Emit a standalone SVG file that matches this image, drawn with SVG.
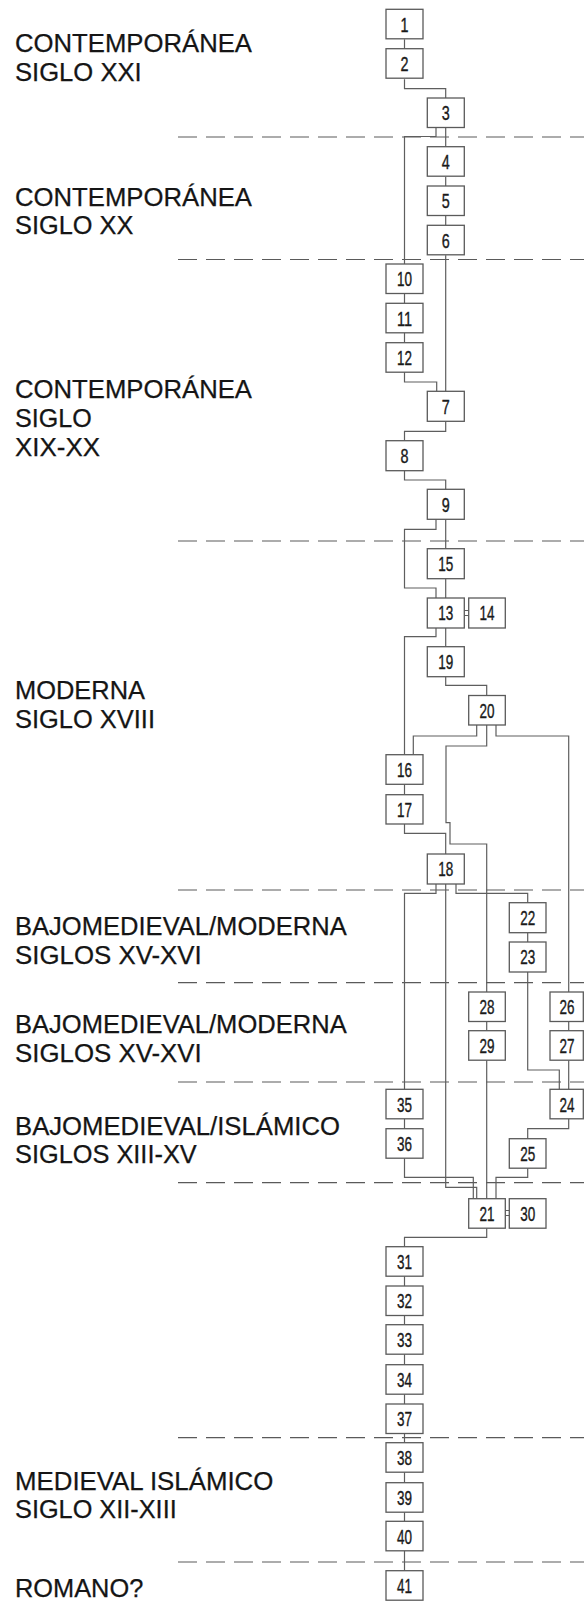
<svg xmlns="http://www.w3.org/2000/svg" width="584" height="1602" viewBox="0 0 584 1602">
<style>
.bg{fill:#fff}
.lbl{font-family:"Liberation Sans",Arial,sans-serif;font-size:25px;fill:#151515;stroke:#151515;stroke-width:0.25}
.box rect{fill:#fff;stroke:#5a5a5a;stroke-width:1.3}
.box text{font-family:"Liberation Sans",Arial,sans-serif;font-size:21px;fill:#1a1a1a;stroke:#1a1a1a;stroke-width:0.4;text-anchor:middle}
.dash{stroke:#5a5a5a;stroke-width:1.2;stroke-dasharray:19 9;fill:none}
.con path{fill:none;stroke:#5e5e5e;stroke-width:1.2}
</style>
<rect class="bg" x="0" y="0" width="584" height="1602"/>
<g id="periods">
<line class="dash" x1="178" y1="137" x2="584" y2="137"/>
<line class="dash" x1="178" y1="259.5" x2="584" y2="259.5"/>
<line class="dash" x1="178" y1="541" x2="584" y2="541"/>
<line class="dash" x1="178" y1="890" x2="584" y2="890"/>
<line class="dash" x1="178" y1="982.7" x2="584" y2="982.7"/>
<line class="dash" x1="178" y1="1082" x2="584" y2="1082"/>
<line class="dash" x1="178" y1="1182.7" x2="584" y2="1182.7"/>
<line class="dash" x1="178" y1="1437.7" x2="584" y2="1437.7"/>
<line class="dash" x1="178" y1="1562" x2="584" y2="1562"/>
</g>
<g id="labels">
<text class="lbl" x="15" y="51.7" textLength="237" lengthAdjust="spacingAndGlyphs">CONTEMPORÁNEA</text>
<text class="lbl" x="15" y="80.7" textLength="126.7" lengthAdjust="spacingAndGlyphs">SIGLO XXI</text>
<text class="lbl" x="15" y="205.5" textLength="237" lengthAdjust="spacingAndGlyphs">CONTEMPORÁNEA</text>
<text class="lbl" x="15" y="234" textLength="118.3" lengthAdjust="spacingAndGlyphs">SIGLO XX</text>
<text class="lbl" x="15" y="398.3" textLength="237" lengthAdjust="spacingAndGlyphs">CONTEMPORÁNEA</text>
<text class="lbl" x="15" y="426.7" textLength="76.7" lengthAdjust="spacingAndGlyphs">SIGLO</text>
<text class="lbl" x="15" y="456" textLength="85" lengthAdjust="spacingAndGlyphs">XIX-XX</text>
<text class="lbl" x="15" y="699.3" textLength="130" lengthAdjust="spacingAndGlyphs">MODERNA</text>
<text class="lbl" x="15" y="728.3" textLength="140" lengthAdjust="spacingAndGlyphs">SIGLO XVIII</text>
<text class="lbl" x="15" y="935" textLength="331.7" lengthAdjust="spacingAndGlyphs">BAJOMEDIEVAL/MODERNA</text>
<text class="lbl" x="15" y="964" textLength="186.7" lengthAdjust="spacingAndGlyphs">SIGLOS XV-XVI</text>
<text class="lbl" x="15" y="1032.7" textLength="331.7" lengthAdjust="spacingAndGlyphs">BAJOMEDIEVAL/MODERNA</text>
<text class="lbl" x="15" y="1061.7" textLength="186.7" lengthAdjust="spacingAndGlyphs">SIGLOS XV-XVI</text>
<text class="lbl" x="15" y="1135" textLength="325" lengthAdjust="spacingAndGlyphs">BAJOMEDIEVAL/ISLÁMICO</text>
<text class="lbl" x="15" y="1163.3" textLength="181.7" lengthAdjust="spacingAndGlyphs">SIGLOS XIII-XV</text>
<text class="lbl" x="15" y="1490" textLength="258.3" lengthAdjust="spacingAndGlyphs">MEDIEVAL ISLÁMICO</text>
<text class="lbl" x="15" y="1518.3" textLength="161.7" lengthAdjust="spacingAndGlyphs">SIGLO XII-XIII</text>
<text class="lbl" x="15" y="1597.3" textLength="128.3" lengthAdjust="spacingAndGlyphs">ROMANO?</text>
</g>
<g id="connectors" class="con">
<path d="M404.5 39.3V48.7"/>
<path d="M404.5 79.3V88.7H445.7V98"/>
<path d="M445.7 128V146.7"/>
<path d="M436 128V136.5H404.5V264"/>
<path d="M445.7 176.7V186"/>
<path d="M445.7 216V225.3"/>
<path d="M445.7 255.3V391.3"/>
<path d="M404.5 293.3V303.3"/>
<path d="M404.5 332.7V342.7"/>
<path d="M404.5 372V382H436.7V391.3"/>
<path d="M445.7 421.3V431.3H404.5V440.7"/>
<path d="M404.5 470.7V480H445.7V489.3"/>
<path d="M445.7 519.3V548.7"/>
<path d="M436 519.3V529.3H404.5V588H436V598"/>
<path d="M445.7 578.7V598"/>
<path d="M464 610.5H468.7M464 615.5H468.7"/>
<path d="M445.7 628V646.7"/>
<path d="M436 628V636.7H404.5V754.7"/>
<path d="M445.7 676.7V685.3H486.7V696"/>
<path d="M476.7 725V736H413.3V754.7"/>
<path d="M486.7 725V746H446V822.7H450V844H486.7V992"/>
<path d="M496 725V736H568.7V992"/>
<path d="M404.5 784.3V794.7"/>
<path d="M404.5 824V833.3H445.7V854"/>
<path d="M436 884V893.3H404.5V1089.3"/>
<path d="M445.7 884V1187.3H476.7V1198.7"/>
<path d="M456 884V893.3H527.7V902.7"/>
<path d="M527.7 932.7V942"/>
<path d="M527.7 972V1070H559.3V1089.3"/>
<path d="M568.7 1021.5V1030.7"/>
<path d="M568.7 1060.2V1089.3"/>
<path d="M486.7 1021.5V1030.7"/>
<path d="M486.7 1060.2V1198.7"/>
<path d="M404.5 1118.8V1128.7"/>
<path d="M404.5 1158.2V1177.3H473.3V1198.7"/>
<path d="M568.7 1118.8V1128.7H527.7V1138.7"/>
<path d="M527.7 1168.2V1177.3H496V1198.7"/>
<path d="M505.3 1210.5H509.3M505.3 1215.5H509.3"/>
<path d="M486.7 1228.2V1237.3H404.5V1246.7"/>
<path d="M404.5 1276.2V1286"/>
<path d="M404.5 1315.5V1324.7"/>
<path d="M404.5 1354.2V1364.7"/>
<path d="M404.5 1394.2V1404"/>
<path d="M404.5 1433.5V1442.7"/>
<path d="M404.5 1472.2V1482.7"/>
<path d="M404.5 1512.2V1521.3"/>
<path d="M404.5 1550.8V1570.7"/>
</g>
<g id="n1" class="box"><rect x="386" y="9.3" width="37" height="29.5"/><text x="404.5" y="31.6" textLength="8" lengthAdjust="spacingAndGlyphs">1</text></g>
<g id="n2" class="box"><rect x="386" y="48.7" width="37" height="29.5"/><text x="404.5" y="71" textLength="8" lengthAdjust="spacingAndGlyphs">2</text></g>
<g id="n3" class="box"><rect x="427.3" y="98" width="37" height="29.5"/><text x="445.8" y="120.3" textLength="8" lengthAdjust="spacingAndGlyphs">3</text></g>
<g id="n4" class="box"><rect x="427.3" y="146.7" width="37" height="29.5"/><text x="445.8" y="169" textLength="8" lengthAdjust="spacingAndGlyphs">4</text></g>
<g id="n5" class="box"><rect x="427.3" y="186" width="37" height="29.5"/><text x="445.8" y="208.3" textLength="8" lengthAdjust="spacingAndGlyphs">5</text></g>
<g id="n6" class="box"><rect x="427.3" y="225.3" width="37" height="29.5"/><text x="445.8" y="247.6" textLength="8" lengthAdjust="spacingAndGlyphs">6</text></g>
<g id="n10" class="box"><rect x="386" y="264" width="37" height="29.5"/><text x="404.5" y="286.3" textLength="15" lengthAdjust="spacingAndGlyphs">10</text></g>
<g id="n11" class="box"><rect x="386" y="303.3" width="37" height="29.5"/><text x="404.5" y="325.6" textLength="15" lengthAdjust="spacingAndGlyphs">11</text></g>
<g id="n12" class="box"><rect x="386" y="342.7" width="37" height="29.5"/><text x="404.5" y="365" textLength="15" lengthAdjust="spacingAndGlyphs">12</text></g>
<g id="n7" class="box"><rect x="427.3" y="391.3" width="37" height="30"/><text x="445.8" y="413.8" textLength="8" lengthAdjust="spacingAndGlyphs">7</text></g>
<g id="n8" class="box"><rect x="386" y="440.7" width="37" height="30"/><text x="404.5" y="463.1" textLength="8" lengthAdjust="spacingAndGlyphs">8</text></g>
<g id="n9" class="box"><rect x="427.3" y="489.3" width="37" height="30"/><text x="445.8" y="511.8" textLength="8" lengthAdjust="spacingAndGlyphs">9</text></g>
<g id="n15" class="box"><rect x="427.3" y="548.7" width="37" height="30"/><text x="445.8" y="571.1" textLength="15" lengthAdjust="spacingAndGlyphs">15</text></g>
<g id="n13" class="box"><rect x="427.3" y="598" width="37" height="30"/><text x="445.8" y="620.3" textLength="15" lengthAdjust="spacingAndGlyphs">13</text></g>
<g id="n14" class="box"><rect x="468.7" y="598" width="36.6" height="30"/><text x="487" y="620.3" textLength="15" lengthAdjust="spacingAndGlyphs">14</text></g>
<g id="n19" class="box"><rect x="427.3" y="646.7" width="37" height="30"/><text x="445.8" y="669.1" textLength="15" lengthAdjust="spacingAndGlyphs">19</text></g>
<g id="n20" class="box"><rect x="468.7" y="695.5" width="36.6" height="29.5"/><text x="487" y="717.8" textLength="15" lengthAdjust="spacingAndGlyphs">20</text></g>
<g id="n16" class="box"><rect x="386" y="754.7" width="37" height="29.6"/><text x="404.5" y="777.1" textLength="15" lengthAdjust="spacingAndGlyphs">16</text></g>
<g id="n17" class="box"><rect x="386" y="794.7" width="37" height="29.3"/><text x="404.5" y="816.8" textLength="15" lengthAdjust="spacingAndGlyphs">17</text></g>
<g id="n18" class="box"><rect x="427.3" y="854" width="37" height="30"/><text x="445.8" y="876.3" textLength="15" lengthAdjust="spacingAndGlyphs">18</text></g>
<g id="n22" class="box"><rect x="509.3" y="902.7" width="36.7" height="30"/><text x="527.7" y="925" textLength="15" lengthAdjust="spacingAndGlyphs">22</text></g>
<g id="n23" class="box"><rect x="509.3" y="942" width="36.7" height="30"/><text x="527.7" y="964.3" textLength="15" lengthAdjust="spacingAndGlyphs">23</text></g>
<g id="n28" class="box"><rect x="468.7" y="992" width="36.6" height="29.5"/><text x="487" y="1014.3" textLength="15" lengthAdjust="spacingAndGlyphs">28</text></g>
<g id="n26" class="box"><rect x="550" y="992" width="33.3" height="29.5"/><text x="567" y="1014.3" textLength="15" lengthAdjust="spacingAndGlyphs">26</text></g>
<g id="n29" class="box"><rect x="468.7" y="1030.7" width="36.6" height="29.5"/><text x="487" y="1053" textLength="15" lengthAdjust="spacingAndGlyphs">29</text></g>
<g id="n27" class="box"><rect x="550" y="1030.7" width="33.3" height="29.5"/><text x="567" y="1053" textLength="15" lengthAdjust="spacingAndGlyphs">27</text></g>
<g id="n35" class="box"><rect x="386" y="1089.3" width="37" height="29.5"/><text x="404.5" y="1111.6" textLength="15" lengthAdjust="spacingAndGlyphs">35</text></g>
<g id="n24" class="box"><rect x="550" y="1089.3" width="33.3" height="29.5"/><text x="567" y="1111.6" textLength="15" lengthAdjust="spacingAndGlyphs">24</text></g>
<g id="n36" class="box"><rect x="386" y="1128.7" width="37" height="29.5"/><text x="404.5" y="1151" textLength="15" lengthAdjust="spacingAndGlyphs">36</text></g>
<g id="n25" class="box"><rect x="509.3" y="1138.7" width="36.7" height="29.5"/><text x="527.7" y="1161" textLength="15" lengthAdjust="spacingAndGlyphs">25</text></g>
<g id="n21" class="box"><rect x="468.7" y="1198.7" width="36.6" height="29.5"/><text x="487" y="1221" textLength="15" lengthAdjust="spacingAndGlyphs">21</text></g>
<g id="n30" class="box"><rect x="509.3" y="1198.7" width="36.7" height="29.5"/><text x="527.7" y="1221" textLength="15" lengthAdjust="spacingAndGlyphs">30</text></g>
<g id="n31" class="box"><rect x="386" y="1246.7" width="37" height="29.5"/><text x="404.5" y="1269" textLength="15" lengthAdjust="spacingAndGlyphs">31</text></g>
<g id="n32" class="box"><rect x="386" y="1286" width="37" height="29.5"/><text x="404.5" y="1308.3" textLength="15" lengthAdjust="spacingAndGlyphs">32</text></g>
<g id="n33" class="box"><rect x="386" y="1324.7" width="37" height="29.5"/><text x="404.5" y="1347" textLength="15" lengthAdjust="spacingAndGlyphs">33</text></g>
<g id="n34" class="box"><rect x="386" y="1364.7" width="37" height="29.5"/><text x="404.5" y="1387" textLength="15" lengthAdjust="spacingAndGlyphs">34</text></g>
<g id="n37" class="box"><rect x="386" y="1404" width="37" height="29.5"/><text x="404.5" y="1426.3" textLength="15" lengthAdjust="spacingAndGlyphs">37</text></g>
<g id="n38" class="box"><rect x="386" y="1442.7" width="37" height="29.5"/><text x="404.5" y="1465" textLength="15" lengthAdjust="spacingAndGlyphs">38</text></g>
<g id="n39" class="box"><rect x="386" y="1482.7" width="37" height="29.5"/><text x="404.5" y="1505" textLength="15" lengthAdjust="spacingAndGlyphs">39</text></g>
<g id="n40" class="box"><rect x="386" y="1521.3" width="37" height="29.5"/><text x="404.5" y="1543.6" textLength="15" lengthAdjust="spacingAndGlyphs">40</text></g>
<g id="n41" class="box"><rect x="386" y="1570.7" width="37" height="29.5"/><text x="404.5" y="1593" textLength="15" lengthAdjust="spacingAndGlyphs">41</text></g>
</svg>
